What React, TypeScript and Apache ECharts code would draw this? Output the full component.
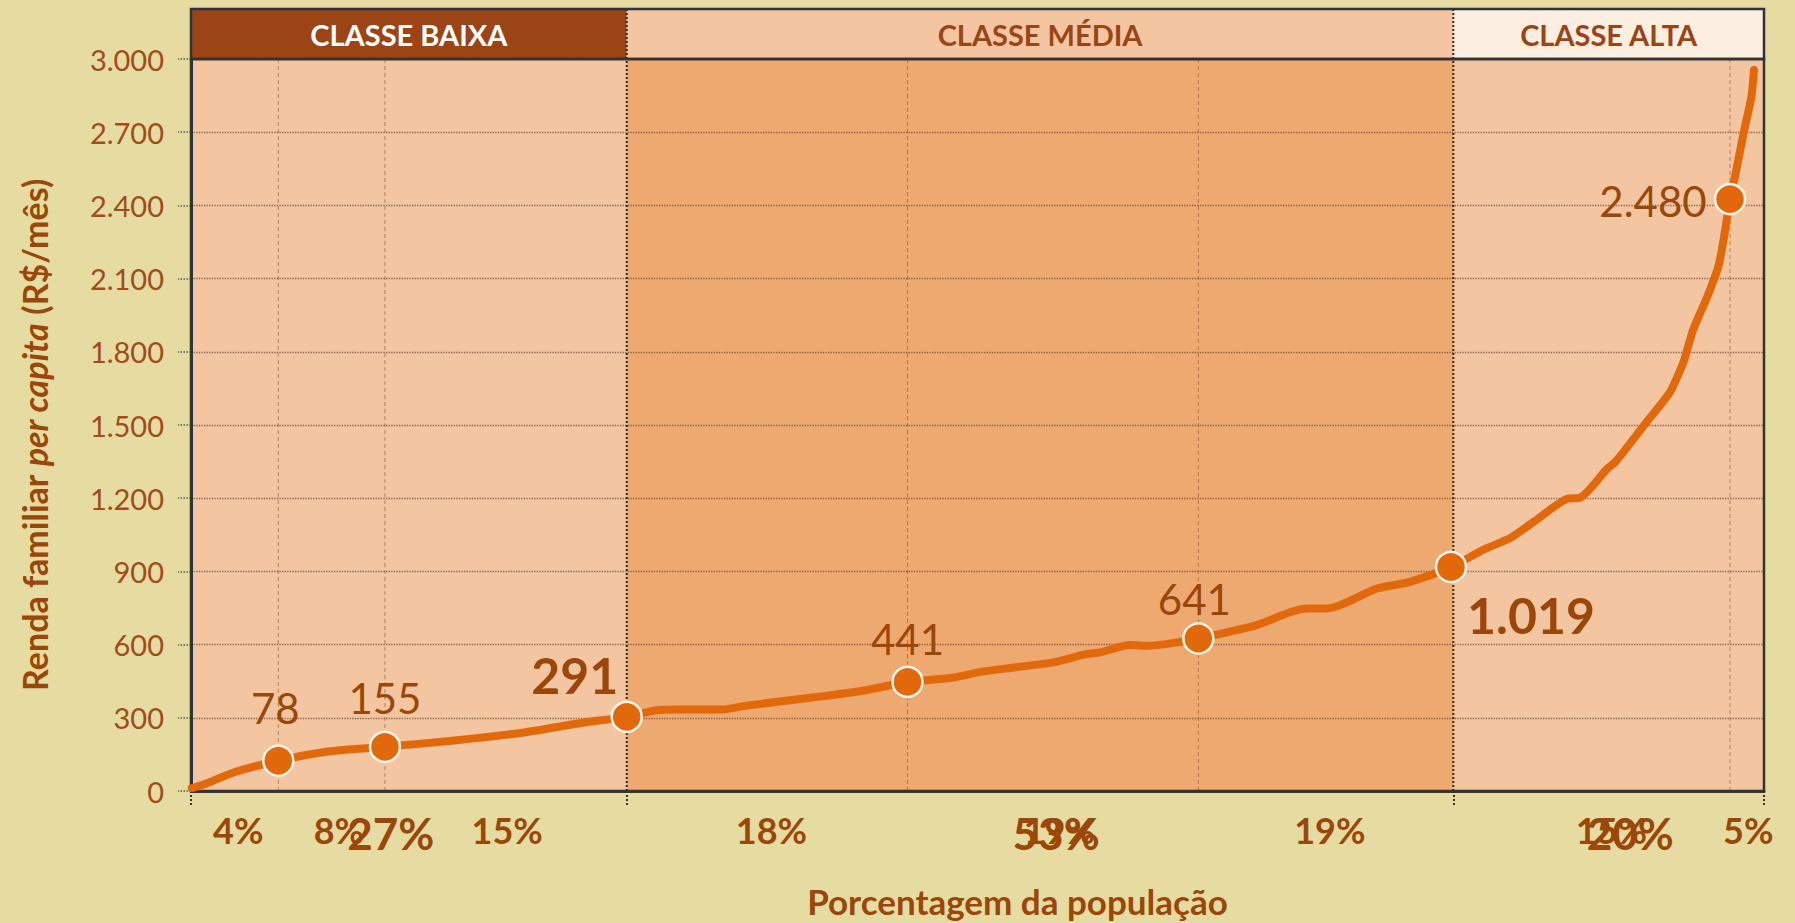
import React, { useEffect, useRef } from "react";
import * as echarts from "echarts";

// ---------- data ----------
const curveX = [0.05, 0.9, 2.8, 5.55, 8.5, 12.33, 16.6, 21.2, 25.0, 27.7, 29.5, 31.0, 33.8, 35.3, 39.6, 42.7, 45.55, 48.5, 50.2, 52.3, 54.8, 56.9, 57.8, 59.7, 60.8, 62.9, 64.04, 67.7, 70.9, 72.2, 75.4, 77.5, 80.1, 82.2, 83.9, 85.4, 87.5, 88.3, 90.0, 90.6, 92.5, 94.0, 94.6, 94.9, 95.5, 96.4, 97.1, 97.5, 97.84, 98.2, 98.7, 99.2, 99.36];
const curveY = [12, 29, 78, 124, 160, 181, 206, 240, 281, 304, 330, 334, 334, 350, 384, 411, 447, 465, 488, 506, 527, 561, 568, 598, 595, 611, 625, 679, 748, 748, 830, 857, 918, 990, 1038, 1105, 1198, 1202, 1318, 1352, 1509, 1632, 1714, 1761, 1891, 2027, 2150, 2287, 2426, 2532, 2696, 2846, 2955];

const markerX = [5.55, 12.33, 27.7, 45.55, 64.04, 80.1, 97.84];
const markerY = [124, 181, 304, 447, 625, 918, 2426];
const markerLabels = ["78", "155", "291", "441", "641", "1.019", "2.480"];

const classNames = ["CLASSE BAIXA", "CLASSE MÉDIA", "CLASSE ALTA"];
const classBounds = [0, 27.7, 80.25, 100];

const segmentLabels = ["4%", "8%", "15%", "18%", "19%", "19%", "15%", "5%"];
const segmentLabelPos = [3.0, 9.4, 20.1, 36.9, 55.2, 72.4, 90.3, 99.0];
const classShareLabels = ["27%", "53%", "20%"];
const classShareLabelPos = [12.7, 55.0, 91.5];

const yMin = 0;
const yMax = 3000;
const yInterval = 300;

// ---------- styles ----------
const FONT = "Lato, 'Open Sans', sans-serif";
const BROWN = "#9A4709";
const TICK = "#A24B1B";
const ORANGE = "#E2690B";
const BG = "#E6DCA2";
const plotBand = ["#F3C5A0", "#EEA971", "#F3C5A0"];
const headBand = ["#9B4516", "#F3C5A0", "#FDEEE2"];
const headText = ["#FFFFFF", "#9B4516", "#9B4516"];
const markerLabelOffsets = [[-3, -53], [0, -49], [-52, -42], [0, -43], [-4, -40], [80, 48], [-77, 2]];
const markerLabelBold = [false, false, true, false, false, true, false];
const gridLineIdx = [0, 1, 3, 4, 6];

const fmtThousands = (v: number) => String(v).replace(/\B(?=(\d{3})+(?!\d))/g, ".");

export default function App() {
  const ref = useRef<HTMLDivElement>(null);

  useEffect(() => {
    if (!ref.current) return;
    const chart = echarts.init(ref.current, undefined, { renderer: "svg" });

    const bandData = classBounds.slice(0, -1).map((b, i) => [b, classBounds[i + 1], i]);
    const gridLineX = gridLineIdx.map((i) => markerX[i]);
    const boundaryX = classBounds.slice(1, -1);

    const option: any = {
      animation: false,
      backgroundColor: BG,
      grid: [
        { left: 191, right: 31, top: 59, bottom: 131, show: true, borderColor: "#333", borderWidth: 2.5, backgroundColor: "transparent", z: 3 },
        { left: 191, right: 31, top: 9, height: 50, show: true, borderColor: "#333", borderWidth: 2.5, backgroundColor: "transparent", z: 3 },
      ],
      xAxis: [
        {
          type: "value", gridIndex: 0, min: 0, max: 100, z: 1,
          axisLine: { show: true, onZero: false, lineStyle: { color: "#3a3a3a", width: 3 } },
          axisTick: { show: true, customValues: classBounds, length: 14, lineStyle: { color: "#333", type: "dotted", width: 2 } },
          axisLabel: {
            customValues: segmentLabelPos,
            formatter: (v: number) => { const i = segmentLabelPos.indexOf(v); return i >= 0 ? segmentLabels[i] : ""; },
            margin: 21, fontFamily: FONT, fontSize: 36, fontWeight: "bold", color: BROWN,
          },
          splitLine: { show: false },
          name: "Porcentagem da população", nameLocation: "middle", nameGap: 92,
          nameTextStyle: { fontFamily: FONT, fontSize: 35, fontWeight: "bold", color: BROWN, padding: [0, 0, 0, 80] },
        },
        {
          type: "value", gridIndex: 0, min: 0, max: 100, position: "bottom", z: 1,
          axisLine: { show: false }, axisTick: { show: false }, splitLine: { show: false },
          axisLabel: {
            customValues: classShareLabelPos,
            formatter: (v: number) => { const i = classShareLabelPos.indexOf(v); return i >= 0 ? classShareLabels[i] : ""; },
            margin: 20, fontFamily: FONT, fontSize: 44, fontWeight: "bold", color: BROWN,
          },
        },
        { type: "value", gridIndex: 1, min: 0, max: 100, show: false },
      ],
      yAxis: [
        {
          type: "value", gridIndex: 0, min: yMin, max: yMax, interval: yInterval, z: 1,
          axisLine: { show: true, lineStyle: { color: "#333", width: 3 } },
          axisTick: { show: true, length: 13, lineStyle: { type: "dotted", color: "#555", width: 1.5 } },
          axisLabel: { margin: 27, fontFamily: FONT, fontSize: 29, color: TICK, formatter: (v: number) => fmtThousands(v) },
          splitLine: { show: true, lineStyle: { type: "dotted", color: "rgba(100,70,50,0.75)", width: 1.3 } },
          name: "{a|Renda familiar }{b|per capita}{a| (R$/mês)}",
          nameLocation: "middle", nameRotate: 90, nameGap: 140,
          nameTextStyle: {
            fontFamily: FONT, fontSize: 34, fontWeight: "bold", color: BROWN, padding: [0, 20, 0, 0],
            rich: {
              a: { fontFamily: FONT, fontSize: 34, fontWeight: "bold", color: BROWN },
              b: { fontFamily: FONT, fontSize: 34, fontWeight: "bold", fontStyle: "italic", color: BROWN },
            },
          },
        },
        { type: "value", gridIndex: 1, min: 0, max: 1, show: false },
      ],
      series: [
        {
          type: "custom", name: "bands", xAxisIndex: 0, yAxisIndex: 0, z: 0, silent: true,
          data: bandData,
          renderItem: (params: any, api: any) => {
            const p0 = api.coord([api.value(0), yMax]);
            const p1 = api.coord([api.value(1), yMin]);
            return { type: "rect", shape: { x: p0[0], y: p0[1], width: p1[0] - p0[0], height: p1[1] - p0[1] }, style: { fill: plotBand[api.value(2)] } };
          },
        },
        {
          type: "custom", name: "header", xAxisIndex: 2, yAxisIndex: 1, z: 0, silent: true,
          data: bandData,
          renderItem: (params: any, api: any) => {
            const p0 = api.coord([api.value(0), 1]);
            const p1 = api.coord([api.value(1), 0]);
            const i = api.value(2);
            return {
              type: "group",
              children: [
                { type: "rect", shape: { x: p0[0], y: p0[1], width: p1[0] - p0[0], height: p1[1] - p0[1] }, style: { fill: headBand[i] } },
                {
                  type: "text", x: (p0[0] + p1[0]) / 2, y: (p0[1] + p1[1]) / 2,
                  style: { text: classNames[i], fill: headText[i], fontFamily: FONT, fontSize: 29, fontWeight: "bold", align: "center", verticalAlign: "middle" },
                },
              ],
            };
          },
        },
        {
          type: "custom", name: "vlines", xAxisIndex: 0, yAxisIndex: 0, z: 1, silent: true,
          data: gridLineX.map((x) => [x, 0]).concat(boundaryX.map((x) => [x, 1])),
          renderItem: (params: any, api: any) => {
            const a = api.coord([api.value(0), yMin]);
            const b = api.coord([api.value(0), yMax]);
            const dark = api.value(1) === 1;
            return {
              type: "line", shape: { x1: a[0], y1: a[1], x2: b[0], y2: b[1] },
              style: dark
                ? { stroke: "#2a2a2a", lineWidth: 2, lineDash: [2, 2] }
                : { stroke: "rgba(140,85,50,0.6)", lineWidth: 1, lineDash: [4, 3] },
            };
          },
        },
        {
          type: "custom", name: "headlines", xAxisIndex: 2, yAxisIndex: 1, z: 1, silent: true,
          data: boundaryX.map((x) => [x, 0]),
          renderItem: (params: any, api: any) => {
            const a = api.coord([api.value(0), 0]);
            const b = api.coord([api.value(0), 1]);
            return { type: "line", shape: { x1: a[0], y1: a[1], x2: b[0], y2: b[1] }, style: { stroke: "#2a2a2a", lineWidth: 2, lineDash: [2, 2] } };
          },
        },
        {
          type: "line", name: "curve", xAxisIndex: 0, yAxisIndex: 0, z: 3,
          data: curveX.map((x, i) => [x, curveY[i]]),
          showSymbol: false, smooth: 0.25,
          lineStyle: { color: ORANGE, width: 8, cap: "round", join: "round" },
        },
        {
          type: "scatter", name: "markers", xAxisIndex: 0, yAxisIndex: 0, z: 4,
          symbolSize: 30,
          itemStyle: { color: ORANGE, borderColor: "#FFF4E8", borderWidth: 2.5, opacity: 1 },
          data: markerX.map((x, i) => ({
            value: [x, markerY[i]],
            label: {
              show: true,
              formatter: markerLabels[i],
              position: "inside",
              offset: markerLabelOffsets[i],
              fontFamily: FONT,
              fontSize: markerLabelBold[i] ? 50 : 42,
              fontWeight: markerLabelBold[i] ? "bold" : "normal",
              color: BROWN,
            },
          })),
        },
      ],
    };

    chart.setOption(option);
    return () => chart.dispose();
  }, []);

  return (
    <div
      ref={ref}
      style={{ position: "fixed", left: 0, top: 0, width: 1795, height: 923, background: BG }}
    />
  );
}
